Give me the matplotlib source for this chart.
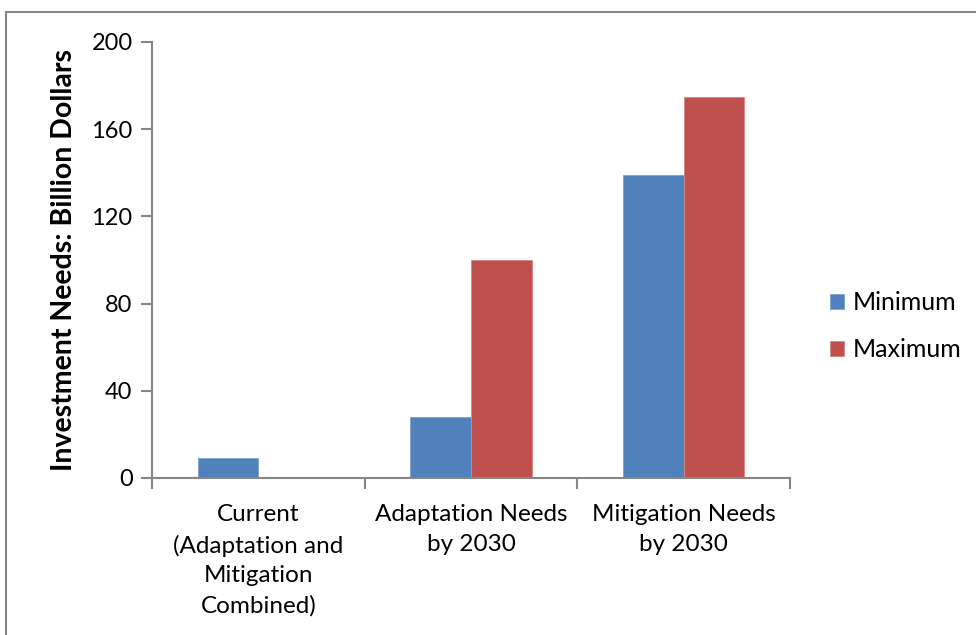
import numpy as np
import matplotlib.pyplot as plt
from matplotlib.patches import Rectangle

# Datos
categorias = ['Current\n(Adaptation and\nMitigation\nCombined)',
              'Adaptation Needs\nby 2030',
              'Mitigation Needs\nby 2030']
minimo = [9, 28, 139]
maximo = [0, 100, 175]
series = ['Minimum', 'Maximum']
colores = ['#4F81BD', '#C0504D']
yticks = [0, 40, 80, 120, 160, 200]

plt.rcParams['font.family'] = ['Lato', 'DejaVu Sans']

fig = plt.figure(figsize=(9.76, 6.35), dpi=100)
ax = fig.add_axes([152/976, 1 - 478/635, (790 - 152)/976, (478 - 42)/635])

x = np.arange(len(categorias))
ancho = 0.2857
ax.bar(x - ancho/2, minimo, ancho, color=colores[0], label=series[0],
       edgecolor='#7BA0CD', linewidth=0.6)
ax.bar(x + ancho/2, maximo, ancho, color=colores[1], label=series[1],
       edgecolor='#D88583', linewidth=0.6)

ax.set_xlim(-0.5, 2.5)
ax.set_ylim(0, 200)
ax.set_yticks(yticks)
ax.set_yticklabels([str(v) for v in yticks], fontsize=17)
ax.set_xticks([-0.5, 0.5, 1.5, 2.5])
ax.set_xticklabels([])
ax.set_xticks(x, minor=True)
ax.set_xticklabels(categorias, minor=True, fontsize=17.5, linespacing=1.5, va='top')
ax.tick_params(axis='x', which='minor', length=0, pad=19)
ax.tick_params(axis='x', which='major', length=8, width=1.5, color='#868686')
ax.tick_params(axis='y', length=8, width=1.5, color='#868686', pad=6)

for lado in ['top', 'right']:
    ax.spines[lado].set_visible(False)
for lado in ['left', 'bottom']:
    ax.spines[lado].set_color('#868686')
    ax.spines[lado].set_linewidth(1.5)

ax.set_ylabel('Investment Needs: Billion Dollars', fontsize=20.5, fontweight='bold', labelpad=10)

fig.legend(loc='center left', bbox_to_anchor=(830/976, 1 - 326/635), frameon=False,
           fontsize=18, handlelength=0.55, handleheight=0.55, handletextpad=0.35,
           labelspacing=0.95, borderpad=0, borderaxespad=0)

# Borde del grafico
fig.patches.append(Rectangle((6/976, -0.5), 1, 1.5 - 12/635, transform=fig.transFigure,
                             fill=False, edgecolor='#868686', linewidth=1.5))

fig.savefig('out.png', dpi=100)
